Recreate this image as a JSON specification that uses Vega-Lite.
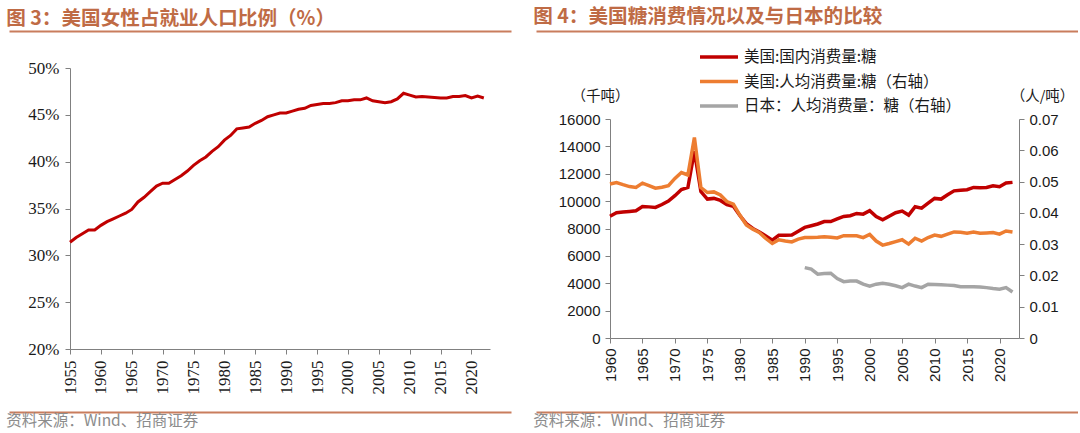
{
  "$schema": "https://vega.github.io/schema/vega-lite/v6.json",
  "background": "white",
  "padding": {"left": 6, "top": 7, "right": 0, "bottom": 0},
  "spacing": 22,
  "resolve": {"scale": {"color": "independent"}, "legend": {"color": "independent"}},
  "config": {
    "view": {"stroke": null},
    "font": "Liberation Sans",
    "axis": {"grid": false, "domainColor": "#808080", "tickColor": "#808080", "tickSize": 5, "labelColor": "#1a1a1a"}
  },
  "datasets": {
    "women": [
      {"year": 1955, "share": 0.314}, {"year": 1956, "share": 0.319}, {"year": 1957, "share": 0.323},
      {"year": 1958, "share": 0.327}, {"year": 1959, "share": 0.327}, {"year": 1960, "share": 0.332},
      {"year": 1961, "share": 0.336}, {"year": 1962, "share": 0.339}, {"year": 1963, "share": 0.342},
      {"year": 1964, "share": 0.345}, {"year": 1965, "share": 0.349}, {"year": 1966, "share": 0.357},
      {"year": 1967, "share": 0.362}, {"year": 1968, "share": 0.368}, {"year": 1969, "share": 0.374},
      {"year": 1970, "share": 0.377}, {"year": 1971, "share": 0.377}, {"year": 1972, "share": 0.381},
      {"year": 1973, "share": 0.385}, {"year": 1974, "share": 0.390}, {"year": 1975, "share": 0.396},
      {"year": 1976, "share": 0.401}, {"year": 1977, "share": 0.405}, {"year": 1978, "share": 0.411},
      {"year": 1979, "share": 0.416}, {"year": 1980, "share": 0.423}, {"year": 1981, "share": 0.428},
      {"year": 1982, "share": 0.435}, {"year": 1983, "share": 0.436}, {"year": 1984, "share": 0.437},
      {"year": 1985, "share": 0.441}, {"year": 1986, "share": 0.444}, {"year": 1987, "share": 0.448},
      {"year": 1988, "share": 0.450}, {"year": 1989, "share": 0.452}, {"year": 1990, "share": 0.452},
      {"year": 1991, "share": 0.454}, {"year": 1992, "share": 0.456}, {"year": 1993, "share": 0.457},
      {"year": 1994, "share": 0.460}, {"year": 1995, "share": 0.461}, {"year": 1996, "share": 0.462},
      {"year": 1997, "share": 0.462}, {"year": 1998, "share": 0.463}, {"year": 1999, "share": 0.465},
      {"year": 2000, "share": 0.465}, {"year": 2001, "share": 0.466}, {"year": 2002, "share": 0.466},
      {"year": 2003, "share": 0.468}, {"year": 2004, "share": 0.465}, {"year": 2005, "share": 0.464},
      {"year": 2006, "share": 0.463}, {"year": 2007, "share": 0.464}, {"year": 2008, "share": 0.467},
      {"year": 2009, "share": 0.473}, {"year": 2010, "share": 0.471}, {"year": 2011, "share": 0.469},
      {"year": 2012, "share": 0.4695}, {"year": 2013, "share": 0.469}, {"year": 2014, "share": 0.4685},
      {"year": 2015, "share": 0.468}, {"year": 2016, "share": 0.468}, {"year": 2017, "share": 0.4695},
      {"year": 2018, "share": 0.4695}, {"year": 2019, "share": 0.4705}, {"year": 2020, "share": 0.468},
      {"year": 2021, "share": 0.470}, {"year": 2022, "share": 0.468}
    ],
    "sugar": [
      {"year": 1960, "series": "美国:国内消费量:糖", "v": 8900},
      {"year": 1961, "series": "美国:国内消费量:糖", "v": 9150},
      {"year": 1962, "series": "美国:国内消费量:糖", "v": 9200},
      {"year": 1963, "series": "美国:国内消费量:糖", "v": 9250},
      {"year": 1964, "series": "美国:国内消费量:糖", "v": 9300},
      {"year": 1965, "series": "美国:国内消费量:糖", "v": 9600},
      {"year": 1966, "series": "美国:国内消费量:糖", "v": 9580},
      {"year": 1967, "series": "美国:国内消费量:糖", "v": 9540},
      {"year": 1968, "series": "美国:国内消费量:糖", "v": 9750},
      {"year": 1969, "series": "美国:国内消费量:糖", "v": 10000},
      {"year": 1970, "series": "美国:国内消费量:糖", "v": 10400},
      {"year": 1971, "series": "美国:国内消费量:糖", "v": 10850},
      {"year": 1972, "series": "美国:国内消费量:糖", "v": 11000},
      {"year": 1973, "series": "美国:国内消费量:糖", "v": 13650},
      {"year": 1974, "series": "美国:国内消费量:糖", "v": 10700},
      {"year": 1975, "series": "美国:国内消费量:糖", "v": 10150},
      {"year": 1976, "series": "美国:国内消费量:糖", "v": 10200},
      {"year": 1977, "series": "美国:国内消费量:糖", "v": 10050},
      {"year": 1978, "series": "美国:国内消费量:糖", "v": 9750},
      {"year": 1979, "series": "美国:国内消费量:糖", "v": 9620},
      {"year": 1980, "series": "美国:国内消费量:糖", "v": 8950},
      {"year": 1981, "series": "美国:国内消费量:糖", "v": 8350},
      {"year": 1982, "series": "美国:国内消费量:糖", "v": 8000},
      {"year": 1983, "series": "美国:国内消费量:糖", "v": 7750},
      {"year": 1984, "series": "美国:国内消费量:糖", "v": 7450},
      {"year": 1985, "series": "美国:国内消费量:糖", "v": 7150},
      {"year": 1986, "series": "美国:国内消费量:糖", "v": 7500},
      {"year": 1987, "series": "美国:国内消费量:糖", "v": 7510},
      {"year": 1988, "series": "美国:国内消费量:糖", "v": 7520},
      {"year": 1989, "series": "美国:国内消费量:糖", "v": 7800},
      {"year": 1990, "series": "美国:国内消费量:糖", "v": 8080},
      {"year": 1991, "series": "美国:国内消费量:糖", "v": 8200},
      {"year": 1992, "series": "美国:国内消费量:糖", "v": 8330},
      {"year": 1993, "series": "美国:国内消费量:糖", "v": 8510},
      {"year": 1994, "series": "美国:国内消费量:糖", "v": 8510},
      {"year": 1995, "series": "美国:国内消费量:糖", "v": 8700},
      {"year": 1996, "series": "美国:国内消费量:糖", "v": 8880},
      {"year": 1997, "series": "美国:国内消费量:糖", "v": 8930},
      {"year": 1998, "series": "美国:国内消费量:糖", "v": 9100},
      {"year": 1999, "series": "美国:国内消费量:糖", "v": 9050},
      {"year": 2000, "series": "美国:国内消费量:糖", "v": 9300},
      {"year": 2001, "series": "美国:国内消费量:糖", "v": 8880},
      {"year": 2002, "series": "美国:国内消费量:糖", "v": 8630},
      {"year": 2003, "series": "美国:国内消费量:糖", "v": 8900},
      {"year": 2004, "series": "美国:国内消费量:糖", "v": 9150},
      {"year": 2005, "series": "美国:国内消费量:糖", "v": 9270},
      {"year": 2006, "series": "美国:国内消费量:糖", "v": 8980},
      {"year": 2007, "series": "美国:国内消费量:糖", "v": 9590},
      {"year": 2008, "series": "美国:国内消费量:糖", "v": 9490},
      {"year": 2009, "series": "美国:国内消费量:糖", "v": 9850},
      {"year": 2010, "series": "美国:国内消费量:糖", "v": 10200},
      {"year": 2011, "series": "美国:国内消费量:糖", "v": 10150},
      {"year": 2012, "series": "美国:国内消费量:糖", "v": 10460},
      {"year": 2013, "series": "美国:国内消费量:糖", "v": 10750},
      {"year": 2014, "series": "美国:国内消费量:糖", "v": 10800},
      {"year": 2015, "series": "美国:国内消费量:糖", "v": 10830},
      {"year": 2016, "series": "美国:国内消费量:糖", "v": 11000},
      {"year": 2017, "series": "美国:国内消费量:糖", "v": 10980},
      {"year": 2018, "series": "美国:国内消费量:糖", "v": 11000},
      {"year": 2019, "series": "美国:国内消费量:糖", "v": 11120},
      {"year": 2020, "series": "美国:国内消费量:糖", "v": 11050},
      {"year": 2021, "series": "美国:国内消费量:糖", "v": 11320},
      {"year": 2022, "series": "美国:国内消费量:糖", "v": 11370},
      {"year": 1960, "series": "美国:人均消费量:糖（右轴）", "v": 0.0492},
      {"year": 1961, "series": "美国:人均消费量:糖（右轴）", "v": 0.0497},
      {"year": 1962, "series": "美国:人均消费量:糖（右轴）", "v": 0.0490},
      {"year": 1963, "series": "美国:人均消费量:糖（右轴）", "v": 0.0484},
      {"year": 1964, "series": "美国:人均消费量:糖（右轴）", "v": 0.0481},
      {"year": 1965, "series": "美国:人均消费量:糖（右轴）", "v": 0.0495},
      {"year": 1966, "series": "美国:人均消费量:糖（右轴）", "v": 0.0487},
      {"year": 1967, "series": "美国:人均消费量:糖（右轴）", "v": 0.0479},
      {"year": 1968, "series": "美国:人均消费量:糖（右轴）", "v": 0.0482},
      {"year": 1969, "series": "美国:人均消费量:糖（右轴）", "v": 0.0487},
      {"year": 1970, "series": "美国:人均消费量:糖（右轴）", "v": 0.0510},
      {"year": 1971, "series": "美国:人均消费量:糖（右轴）", "v": 0.0529},
      {"year": 1972, "series": "美国:人均消费量:糖（右轴）", "v": 0.0521},
      {"year": 1973, "series": "美国:人均消费量:糖（右轴）", "v": 0.0641},
      {"year": 1974, "series": "美国:人均消费量:糖（右轴）", "v": 0.0481},
      {"year": 1975, "series": "美国:人均消费量:糖（右轴）", "v": 0.0465},
      {"year": 1976, "series": "美国:人均消费量:糖（右轴）", "v": 0.0467},
      {"year": 1977, "series": "美国:人均消费量:糖（右轴）", "v": 0.0457},
      {"year": 1978, "series": "美国:人均消费量:糖（右轴）", "v": 0.0436},
      {"year": 1979, "series": "美国:人均消费量:糖（右轴）", "v": 0.0428},
      {"year": 1980, "series": "美国:人均消费量:糖（右轴）", "v": 0.0393},
      {"year": 1981, "series": "美国:人均消费量:糖（右轴）", "v": 0.0361},
      {"year": 1982, "series": "美国:人均消费量:糖（右轴）", "v": 0.0348},
      {"year": 1983, "series": "美国:人均消费量:糖（右轴）", "v": 0.0337},
      {"year": 1984, "series": "美国:人均消费量:糖（右轴）", "v": 0.0318},
      {"year": 1985, "series": "美国:人均消费量:糖（右轴）", "v": 0.0302},
      {"year": 1986, "series": "美国:人均消费量:糖（右轴）", "v": 0.0314},
      {"year": 1987, "series": "美国:人均消费量:糖（右轴）", "v": 0.0310},
      {"year": 1988, "series": "美国:人均消费量:糖（右轴）", "v": 0.0307},
      {"year": 1989, "series": "美国:人均消费量:糖（右轴）", "v": 0.0316},
      {"year": 1990, "series": "美国:人均消费量:糖（右轴）", "v": 0.0321},
      {"year": 1991, "series": "美国:人均消费量:糖（右轴）", "v": 0.0321},
      {"year": 1992, "series": "美国:人均消费量:糖（右轴）", "v": 0.0322},
      {"year": 1993, "series": "美国:人均消费量:糖（右轴）", "v": 0.0324},
      {"year": 1994, "series": "美国:人均消费量:糖（右轴）", "v": 0.0322},
      {"year": 1995, "series": "美国:人均消费量:糖（右轴）", "v": 0.0320},
      {"year": 1996, "series": "美国:人均消费量:糖（右轴）", "v": 0.0327},
      {"year": 1997, "series": "美国:人均消费量:糖（右轴）", "v": 0.0327},
      {"year": 1998, "series": "美国:人均消费量:糖（右轴）", "v": 0.0327},
      {"year": 1999, "series": "美国:人均消费量:糖（右轴）", "v": 0.0321},
      {"year": 2000, "series": "美国:人均消费量:糖（右轴）", "v": 0.0331},
      {"year": 2001, "series": "美国:人均消费量:糖（右轴）", "v": 0.0310},
      {"year": 2002, "series": "美国:人均消费量:糖（右轴）", "v": 0.0297},
      {"year": 2003, "series": "美国:人均消费量:糖（右轴）", "v": 0.0302},
      {"year": 2004, "series": "美国:人均消费量:糖（右轴）", "v": 0.0308},
      {"year": 2005, "series": "美国:人均消费量:糖（右轴）", "v": 0.0314},
      {"year": 2006, "series": "美国:人均消费量:糖（右轴）", "v": 0.0300},
      {"year": 2007, "series": "美国:人均消费量:糖（右轴）", "v": 0.0319},
      {"year": 2008, "series": "美国:人均消费量:糖（右轴）", "v": 0.0310},
      {"year": 2009, "series": "美国:人均消费量:糖（右轴）", "v": 0.0321},
      {"year": 2010, "series": "美国:人均消费量:糖（右轴）", "v": 0.0329},
      {"year": 2011, "series": "美国:人均消费量:糖（右轴）", "v": 0.0325},
      {"year": 2012, "series": "美国:人均消费量:糖（右轴）", "v": 0.0332},
      {"year": 2013, "series": "美国:人均消费量:糖（右轴）", "v": 0.0339},
      {"year": 2014, "series": "美国:人均消费量:糖（右轴）", "v": 0.0338},
      {"year": 2015, "series": "美国:人均消费量:糖（右轴）", "v": 0.0335},
      {"year": 2016, "series": "美国:人均消费量:糖（右轴）", "v": 0.0339},
      {"year": 2017, "series": "美国:人均消费量:糖（右轴）", "v": 0.0335},
      {"year": 2018, "series": "美国:人均消费量:糖（右轴）", "v": 0.0336},
      {"year": 2019, "series": "美国:人均消费量:糖（右轴）", "v": 0.0337},
      {"year": 2020, "series": "美国:人均消费量:糖（右轴）", "v": 0.0332},
      {"year": 2021, "series": "美国:人均消费量:糖（右轴）", "v": 0.0342},
      {"year": 2022, "series": "美国:人均消费量:糖（右轴）", "v": 0.0339},
      {"year": 1990, "series": "日本：人均消费量：糖（右轴）", "v": 0.0225},
      {"year": 1991, "series": "日本：人均消费量：糖（右轴）", "v": 0.0220},
      {"year": 1992, "series": "日本：人均消费量：糖（右轴）", "v": 0.0204},
      {"year": 1993, "series": "日本：人均消费量：糖（右轴）", "v": 0.0206},
      {"year": 1994, "series": "日本：人均消费量：糖（右轴）", "v": 0.0207},
      {"year": 1995, "series": "日本：人均消费量：糖（右轴）", "v": 0.0190},
      {"year": 1996, "series": "日本：人均消费量：糖（右轴）", "v": 0.0180},
      {"year": 1997, "series": "日本：人均消费量：糖（右轴）", "v": 0.0182},
      {"year": 1998, "series": "日本：人均消费量：糖（右轴）", "v": 0.0182},
      {"year": 1999, "series": "日本：人均消费量：糖（右轴）", "v": 0.0172},
      {"year": 2000, "series": "日本：人均消费量：糖（右轴）", "v": 0.0166},
      {"year": 2001, "series": "日本：人均消费量：糖（右轴）", "v": 0.0172},
      {"year": 2002, "series": "日本：人均消费量：糖（右轴）", "v": 0.0175},
      {"year": 2003, "series": "日本：人均消费量：糖（右轴）", "v": 0.0172},
      {"year": 2004, "series": "日本：人均消费量：糖（右轴）", "v": 0.0167},
      {"year": 2005, "series": "日本：人均消费量：糖（右轴）", "v": 0.0161},
      {"year": 2006, "series": "日本：人均消费量：糖（右轴）", "v": 0.0172},
      {"year": 2007, "series": "日本：人均消费量：糖（右轴）", "v": 0.0166},
      {"year": 2008, "series": "日本：人均消费量：糖（右轴）", "v": 0.0161},
      {"year": 2009, "series": "日本：人均消费量：糖（右轴）", "v": 0.0172},
      {"year": 2010, "series": "日本：人均消费量：糖（右轴）", "v": 0.0171},
      {"year": 2011, "series": "日本：人均消费量：糖（右轴）", "v": 0.0170},
      {"year": 2012, "series": "日本：人均消费量：糖（右轴）", "v": 0.0169},
      {"year": 2013, "series": "日本：人均消费量：糖（右轴）", "v": 0.0168},
      {"year": 2014, "series": "日本：人均消费量：糖（右轴）", "v": 0.0164},
      {"year": 2015, "series": "日本：人均消费量：糖（右轴）", "v": 0.0164},
      {"year": 2016, "series": "日本：人均消费量：糖（右轴）", "v": 0.0164},
      {"year": 2017, "series": "日本：人均消费量：糖（右轴）", "v": 0.0163},
      {"year": 2018, "series": "日本：人均消费量：糖（右轴）", "v": 0.0161},
      {"year": 2019, "series": "日本：人均消费量：糖（右轴）", "v": 0.0158},
      {"year": 2020, "series": "日本：人均消费量：糖（右轴）", "v": 0.0156},
      {"year": 2021, "series": "日本：人均消费量：糖（右轴）", "v": 0.0161},
      {"year": 2022, "series": "日本：人均消费量：糖（右轴）", "v": 0.0147}
    ]
  },
  "hconcat": [
    {
      "spacing": 10,
      "vconcat": [
        {
          "width": 502,
          "height": 18,
          "title": {"text": "图 3：美国女性占就业人口比例（%）", "anchor": "start", "font": "Noto Sans CJK SC", "fontSize": 19.6, "fontWeight": "bold", "color": "#bf6b45", "offset": 1},
          "data": {"name": "women"},
          "mark": {"type": "point", "opacity": 0},
          "encoding": {
            "x": {"field": "year", "type": "quantitative", "scale": {"domain": [1955, 2023]}, "axis": {"orient": "top", "domainColor": "#c97d5d", "domainWidth": 2, "ticks": false, "labels": false, "title": null}}
          }
        },
        {
          "width": 481,
          "height": 281,
          "data": {"name": "women"},
          "mark": {"type": "line", "color": "#C00000", "strokeWidth": 3},
          "encoding": {
            "x": {
              "field": "year", "type": "quantitative",
              "scale": {"domain": [1955, 2023], "nice": false, "range": [61, 481]},
              "axis": {"values": [1955, 1960, 1965, 1970, 1975, 1980, 1985, 1990, 1995, 2000, 2005, 2010, 2015, 2020], "format": "d", "labelAngle": -90, "labelFont": "Liberation Serif", "labelFontSize": 17, "labelPadding": 6, "title": null}
            },
            "y": {
              "field": "share", "type": "quantitative",
              "scale": {"domain": [0.2, 0.5], "nice": false},
              "axis": {"values": [0.2, 0.25, 0.3, 0.35, 0.4, 0.45, 0.5], "format": ".0%", "offset": -61, "labelFont": "Liberation Serif", "labelFontSize": 17, "labelPadding": 6, "title": null}
            }
          }
        },
        {
          "width": 502,
          "height": 8,
          "title": {"text": "资料来源：Wind、招商证券", "orient": "bottom", "anchor": "start", "font": "Noto Sans CJK SC", "fontSize": 15.5, "fontWeight": "normal", "color": "#8c8c8c", "offset": 2},
          "data": {"name": "women"},
          "mark": {"type": "point", "opacity": 0},
          "encoding": {
            "x": {"field": "year", "type": "quantitative", "scale": {"domain": [1955, 2023]}, "axis": {"orient": "bottom", "domainColor": "#c97d5d", "domainWidth": 2, "ticks": false, "labels": false, "title": null}}
          }
        }
      ]
    },
    {
      "spacing": 10,
      "resolve": {"scale": {"color": "independent"}, "legend": {"color": "independent"}},
      "vconcat": [
        {
          "width": 542,
          "height": 1,
          "title": {"text": "图 4：美国糖消费情况以及与日本的比较", "anchor": "start", "font": "Noto Sans CJK SC", "fontSize": 19.6, "fontWeight": "bold", "color": "#bf6b45", "offset": 1},
          "data": {"name": "sugar"},
          "mark": {"type": "point", "opacity": 0},
          "encoding": {
            "x": {"field": "year", "type": "quantitative", "scale": {"domain": [1960, 2023]}, "axis": {"orient": "top", "domainColor": "#c97d5d", "domainWidth": 2, "ticks": false, "labels": false, "title": null}}
          }
        },
        {
          "width": 483,
          "height": 219,
          "data": {"name": "sugar"},
          "encoding": {
            "x": {
              "field": "year", "type": "quantitative",
              "scale": {"domain": [1960, 2023], "nice": false, "range": [74, 483]},
              "axis": {"values": [1960, 1965, 1970, 1975, 1980, 1985, 1990, 1995, 2000, 2005, 2010, 2015, 2020], "format": "d", "labelAngle": -90, "labelFontSize": 15, "labelPadding": 5, "title": null}
            },
            "color": {
              "field": "series", "type": "nominal",
              "scale": {"domain": ["美国:国内消费量:糖", "美国:人均消费量:糖（右轴）", "日本：人均消费量：糖（右轴）"], "range": ["#C00000", "#ED7D31", "#A5A5A5"]},
              "legend": {"orient": "none", "legendX": 162, "legendY": -74, "direction": "vertical", "title": null, "labelFont": "Noto Sans CJK SC", "labelFontSize": 15.5, "labelColor": "#1a1a1a", "labelLimit": 400, "symbolType": "stroke", "symbolSize": 1444, "symbolStrokeWidth": 3.5, "clipHeight": 24, "rowPadding": 0.5, "labelOffset": 4}
            }
          },
          "layer": [
            {
              "transform": [{"filter": "datum.series === '美国:国内消费量:糖'"}],
              "mark": {"type": "line", "strokeWidth": 3.5},
              "encoding": {
                "y": {
                  "field": "v", "type": "quantitative",
                  "scale": {"domain": [0, 16000], "nice": false},
                  "axis": {"values": [0, 2000, 4000, 6000, 8000, 10000, 12000, 14000, 16000], "format": "d", "offset": -74, "labelFontSize": 15, "labelPadding": 5, "title": "（千吨）", "titleFont": "Noto Sans CJK SC", "titleFontSize": 14.5, "titleFontWeight": "normal", "titleColor": "#1a1a1a", "titleAngle": 0, "titleX": -10, "titleY": -23, "titleAlign": "center", "titleBaseline": "middle"}
                }
              }
            },
            {
              "transform": [{"filter": "datum.series !== '美国:国内消费量:糖'"}],
              "mark": {"type": "line", "strokeWidth": 3.5},
              "encoding": {
                "y": {
                  "field": "v", "type": "quantitative",
                  "scale": {"domain": [0, 0.07], "nice": false},
                  "axis": {"orient": "right", "values": [0, 0.01, 0.02, 0.03, 0.04, 0.05, 0.06, 0.07], "labelExpr": "datum.value === 0 ? '0' : format(datum.value, '.2f')", "labelFontSize": 15, "labelPadding": 5, "title": "（人/吨）", "titleFont": "Noto Sans CJK SC", "titleFontSize": 14.5, "titleFontWeight": "normal", "titleColor": "#1a1a1a", "titleAngle": 0, "titleX": 23, "titleY": -23, "titleAlign": "center", "titleBaseline": "middle"}
                }
              }
            }
          ],
          "resolve": {"scale": {"y": "independent"}}
        },
        {
          "width": 542,
          "height": 20,
          "title": {"text": "资料来源：Wind、招商证券", "orient": "bottom", "anchor": "start", "font": "Noto Sans CJK SC", "fontSize": 15.5, "fontWeight": "normal", "color": "#8c8c8c", "offset": 2},
          "data": {"name": "sugar"},
          "mark": {"type": "point", "opacity": 0},
          "encoding": {
            "x": {"field": "year", "type": "quantitative", "scale": {"domain": [1960, 2023]}, "axis": {"orient": "bottom", "domainColor": "#c97d5d", "domainWidth": 2, "ticks": false, "labels": false, "title": null}}
          }
        }
      ]
    }
  ]
}
